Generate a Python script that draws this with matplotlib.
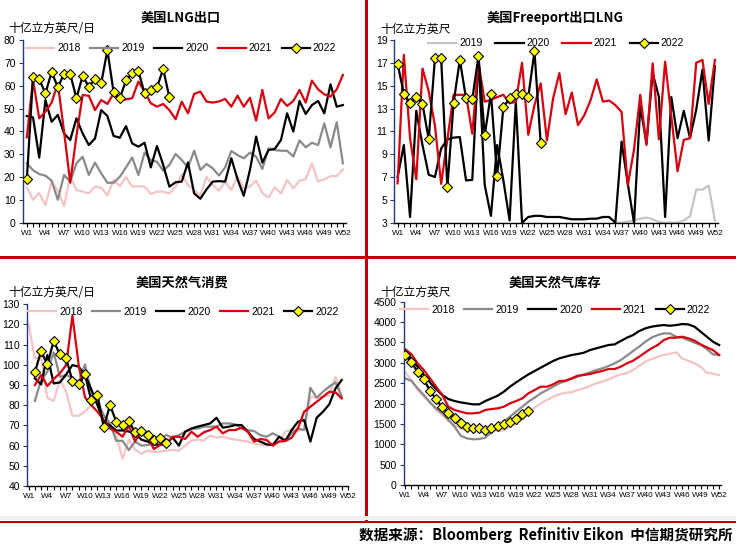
import numpy as np
import matplotlib
matplotlib.use('Agg')
import matplotlib.pyplot as plt
from matplotlib.patches import Rectangle
from matplotlib import font_manager

plt.rcParams['font.family'] = ['Liberation Sans', 'Noto Sans CJK SC']

nan = np.nan
WEEKS = np.arange(1, 53)

# ---- 美国LNG出口 (十亿立方英尺/日) ----
lng_2018 = [15.5, 10, 13, 7.7, 18, 14, 7.3, 20.4, 14.3, 13.6,
            12.8, 15.8, 15.3, 12, 18.7, 16, 19.9, 15.8, 16, 15.8,
            12.6, 13.6, 13.6, 12.8, 15.8, 21.3, 16.5, 14.3, 12, 20,
            16.5, 14, 18, 14.3, 20.4, 15, 15.8, 18.4, 13, 11.1,
            15.5, 12.8, 18.7, 15, 18.4, 19, 26, 18, 19, 20.4,
            20.4, 23.3]
lng_2019 = [26, 23, 21.3, 20.6, 18.4, 10, 20.9, 18, 26, 28.9,
            20.9, 26.3, 21.6, 17.5, 17.5, 20.1, 24.2, 28.6, 20.9, 30.7,
            27.4, 26.7, 22.8, 25.3, 30.1, 27.4, 24.2, 31.5, 23.1, 25.7,
            23.8, 20.6, 24.2, 31.4, 29.6, 28.2, 30.7, 28.9, 23.5, 32.6,
            31.8, 31.5, 31.5, 29, 36, 33, 35, 34, 43.5, 33,
            44, 26]
lng_2020 = [46.7, 46.1, 28.5, 53.7, 44.2, 47.2, 39.1, 36.2, 45.7, 39.1,
            34, 36.9, 49.3, 46.7, 38, 37.2, 42.3, 34.7, 33.3, 35,
            24.2, 33.6, 25.3, 15.8, 17.7, 18, 26.4, 12.8, 10.5, 14.6,
            18, 18.2, 18, 28.2, 19, 11.8, 23.1, 37.7, 26.3, 31.8,
            32.3, 36.2, 47.9, 39.9, 53.3, 47.6, 51.5, 53.3, 47.9, 60.6,
            50.8, 51.5]
lng_2021 = [37.4, 62.5, 45.7, 48.6, 52.6, 61, 40, 17.5, 38, 55.9,
            55.6, 49.3, 53.7, 52, 56.6, 53.4, 54, 54.5, 61.8, 57.4,
            52.3, 50.8, 52, 49.3, 45.3, 53, 47.9, 56.4, 57.4, 53,
            52.6, 53.1, 54.2, 50.8, 55.6, 50.8, 54.7, 44.7, 58.1, 45.7,
            48.3, 54.2, 51.1, 53.3, 58.1, 52.6, 62.2, 58.4, 56.2, 55.2,
            58.4, 64.7]
lng_2022 = [19, 63.8, 62.8, 56.6, 66, 59.3, 65.1, 65.1, 54.5, 64.2,
            59.6, 62.8, 61, 75.6, 57.1, 54.5, 62.3, 65.4, 66.4, 56.6,
            58.1, 59.3, 67.3, 54.9]

# ---- 美国Freeport出口LNG (十亿立方英尺) ----
fp_2019 = [nan] * 35 + [3.0, 3.0, 3.1, 3.2, 3.35, 3.45, 3.3, 3.05, 3.0, 3.0,
                        3.0, 3.2, 3.55, 5.9, 5.9, 6.25, 3.2]
fp_2020 = [7.0, 9.8, 3.5, 12.8, 9.8, 7.2, 7.0, 9.5, 10.3, 10.45,
           10.5, 6.7, 6.75, 17.5, 6.3, 3.6, 9.8, 6.7, 3.2, 13.6,
           3.0, 3.5, 3.6, 3.6, 3.5, 3.5, 3.5, 3.4, 3.3, 3.3,
           3.3, 3.35, 3.35, 3.5, 3.5, 3.0, 10.1, 6.4, 3.0, 13.2,
           9.95, 16.1, 14.0, 3.5, 14.0, 10.4, 12.8, 10.4, 12.9, 16.4,
           10.2, 16.7]
fp_2021 = [6.45, 17.7, 10.4, 6.8, 16.5, 14.5, 11.5, 6.4, 10.3, 14.2,
           14.2, 14.2, 10.8, 17.0, 13.6, 13.75, 14.0, 14.2, 13.45, 13.6,
           17.0, 10.7, 13.3, 15.2, 10.2, 13.9, 16.1, 12.5, 14.4, 11.55,
           12.4, 13.7, 15.55, 13.6, 13.7, 13.3, 12.7, 6.3, 9.4, 14.2,
           9.8, 16.95, 10.3, 17.1, 12.3, 7.5, 10.25, 10.4, 17.0, 17.25,
           13.4, 17.25]
fp_2022 = [16.9, 14.3, 13.45, 14, 13.4, 10.3, 17.4, 17.4, 6.1, 13.5,
           17.25, 13.9, 13.8, 17.6, 10.65, 14.3, 7.1, 13.1, 13.9, 14.3,
           14.3, 14, 18.0, 9.95]

# ---- 美国天然气消费 (十亿立方英尺/日) ----
con_2018 = [120.5, 103.2, 103.5, 83.7, 82.1, 92.5, 86.7, 74.8, 74.8, 76.8,
            80.1, 83.4, 75, 70, 65, 53.5, 63, 58, 56, 57.5,
            57, 57, 57.5, 58, 57.5, 60, 62.5, 63, 62.5, 65,
            64, 64.5, 63.5, 63, 62.5, 62, 61, 60.5, 60, 61,
            62, 67, 68, 67.5, 68, 84, 84, 84, 85, 94,
            85]
con_2019 = [nan, 82.1, 92.5, 96.6, 106.2, 94.1, 95, 93.6, 91.3, 100.2,
            86.7, 80.9, 75.1, 71, 62.4, 62.4, 57.8, 62, 60, 60.3,
            61.1, 63.6, 65.2, 63.9, 65.2, 66.9, 68.2, 68.5, 69.4, 69.4,
            69.4, 71, 71, 70.5, 68.5, 67.7, 67.2, 65.2, 64.4, 66.1,
            64.4, 62.8, 66.1, 68.5, 67.7, 88.7, 83.7, 86.7, 89.2, 91.3,
            84.2]
con_2020 = [nan, 93.3, 90.3, 104.9, 90.8, 91.3, 95.3, 99.9, 99.1, 95,
            88, 80, 72, 70, 67.5, 67.5, 67, 66, 63, 62,
            60.5, 60.5, 61, 64, 60, 66.9, 68.5, 69.4, 70.2, 71,
            73.8, 68.9, 69.4, 70.2, 70.2, 66.9, 63.3, 62, 60.6, 60.3,
            64.4, 62.3, 67.7, 71.8, 72.7, 62, 73.8, 76.8, 80.4, 88.3,
            92.5]
con_2021 = [nan, 90, 95, 89.5, 93, 95.8, 99.9, 124.3, 100, 84,
            80.1, 76.8, 72.7, 68.5, 66.9, 64.4, 69.9, 62, 67.7, 64.4,
            58.3, 60.3, 61.1, 64.4, 64.4, 63.3, 66.9, 64.4, 66.6, 67.7,
            69.4, 66.1, 67.7, 67.7, 68.9, 66.9, 62, 63.3, 62.8, 60,
            62, 62.3, 63.9, 68.5, 76.8, 79.3, 81.7, 84.2, 86.7, 86.4,
            83.4]
con_2022 = [nan, 96.3, 106.8, 100.2, 111.8, 105.2, 103.2, 92.1, 90.3, 95.3,
            82.4, 85, 69, 80.1, 71.8, 70.2, 72.2, 66.6, 67.2, 65.2,
            62.8, 63.9, 61.1]

# ---- 美国天然气库存 (十亿立方英尺) ----
sto_2018 = [2765, 2577, 2331, 2168, 2028, 1841, 1718, 1570, 1472, 1391,
            1350, 1325, 1309, 1292, 1325, 1325, 1350, 1432, 1513, 1620,
            1759, 1898, 2004, 2086, 2168, 2225, 2266, 2274, 2331, 2372,
            2430, 2495, 2536, 2593, 2659, 2716, 2740, 2822, 2920, 3027,
            3092, 3149, 3190, 3223, 3256, 3108, 3051, 2986, 2904, 2757,
            2732, 2700]
sto_2019 = [2618, 2552, 2372, 2209, 2028, 1881, 1759, 1595, 1432, 1211,
            1145, 1121, 1129, 1162, 1292, 1432, 1554, 1677, 1800, 1922,
            2045, 2143, 2250, 2331, 2413, 2495, 2552, 2601, 2659, 2716,
            2765, 2822, 2863, 2920, 2986, 3067, 3174, 3288, 3395, 3517,
            3616, 3681, 3722, 3722, 3640, 3616, 3558, 3493, 3436, 3338,
            3207, 3190]
sto_2020 = [3270, 3092, 2904, 2700, 2519, 2356, 2209, 2110, 2061, 2028,
            2004, 1980, 1980, 2061, 2127, 2192, 2290, 2413, 2519, 2618,
            2716, 2798, 2880, 2961, 3043, 3108, 3149, 3190, 3215, 3247,
            3313, 3354, 3395, 3436, 3452, 3534, 3616, 3681, 3779, 3845,
            3886, 3910, 3926, 3910, 3926, 3951, 3943, 3886, 3763, 3640,
            3517, 3436]
sto_2021 = [3330, 3207, 2986, 2822, 2618, 2413, 2209, 1922, 1841, 1800,
            1759, 1759, 1775, 1841, 1865, 1881, 1922, 2004, 2061, 2127,
            2250, 2331, 2413, 2413, 2470, 2552, 2560, 2618, 2683, 2700,
            2724, 2765, 2798, 2847, 2847, 2904, 2986, 3051, 3149, 3256,
            3354, 3436, 3558, 3616, 3616, 3640, 3600, 3542, 3452, 3378,
            3313, 3190]
sto_2022 = [3190, 3010, 2781, 2593, 2315, 2102, 1906, 1775, 1636, 1513,
            1432, 1407, 1407, 1350, 1391, 1448, 1497, 1554, 1620, 1734,
            1816]

W, H = 736, 548
PINK = '#f4c4c4'
GRAY = '#8a8a8a'
LIGHTGRAY = '#c4c4c4'
RED = '#d9000f'
NAVY = '#1f3a7a'
BORDER = '#c00000'

# narrow font for the crowded week labels, if there is one
installed = {f.name for f in font_manager.fontManager.ttflist}
if 'Liberation Sans Narrow' in installed:
    XFONT, XSIZE = 'Liberation Sans Narrow', 7
else:
    XFONT, XSIZE = 'Liberation Sans', 5.9


def px_axes(fig, x0, y0, x1, y1):
    # pixel box (left, top, right, bottom) -> axes
    return fig.add_axes([x0 / W, 1 - y1 / H, (x1 - x0) / W, (y1 - y0) / H])


def draw_panel(ax, series, ylim, ystep, xlim, leg_x, leg_y, colspace):
    for year, vals, color in series:
        vals = np.array(vals, dtype=float)
        x = WEEKS[:len(vals)]
        if year == '2022':
            ax.plot(x, vals, color='black', lw=1.6, marker='D', ms=5.4,
                    mfc='#ffff00', mec='black', mew=0.8, label=year, zorder=5)
        else:
            ax.plot(x, vals, color=color, lw=1.6, label=year)

    ax.set_xlim(*xlim)
    ax.set_ylim(*ylim)
    ax.set_yticks(np.arange(ylim[0], ylim[1] + ystep / 2, ystep))
    ax.set_xticks(WEEKS)
    ax.set_xticklabels(['W%d' % w if (w - 1) % 3 == 0 else '' for w in WEEKS],
                       fontsize=XSIZE, family=XFONT)
    ax.tick_params(axis='y', labelsize=7.5, length=3, color=NAVY, pad=2)
    ax.tick_params(axis='x', length=3, pad=2)
    for s in ['top', 'right']:
        ax.spines[s].set_visible(False)
    ax.spines['left'].set_color(NAVY)
    ax.spines['left'].set_linewidth(1.0)
    ax.spines['bottom'].set_linewidth(1.0)
    ax.set_facecolor('none')

    ax.legend(ncol=len(series), loc='center', bbox_to_anchor=(leg_x, leg_y),
              frameon=False, fontsize=7.5, handlelength=2.7, handletextpad=0.3,
              columnspacing=colspace, borderaxespad=0, borderpad=0)


fig = plt.figure(figsize=(W / 100, H / 100), dpi=100)

# panel borders
fig.patches.append(Rectangle((365 / W, 1 - 521 / H), 3 / W, 521 / H,
                             transform=fig.transFigure, color=BORDER, lw=0))
fig.patches.append(Rectangle((0, 1 - 259 / H), 1, 3 / H,
                             transform=fig.transFigure, color=BORDER, lw=0))
fig.patches.append(Rectangle((0, 1 - 520 / H), 1, 4 / H,
                             transform=fig.transFigure, color='#efefef', lw=0))
fig.patches.append(Rectangle((0, 1 - 523 / H), 1, 2.5 / H,
                             transform=fig.transFigure, color=BORDER, lw=0))

ax1 = px_axes(fig, 22.5, 40, 346, 222.7)
draw_panel(ax1, [('2018', lng_2018, PINK), ('2019', lng_2019, GRAY),
                 ('2020', lng_2020, 'black'), ('2021', lng_2021, RED),
                 ('2022', lng_2022, 'black')],
           (0, 80), 10, (0.3, 52.5), 0.49, 0.955, 0.9)

ax2 = px_axes(fig, 394.5, 40, 718, 222.7)
draw_panel(ax2, [('2019', fp_2019, LIGHTGRAY), ('2020', fp_2020, 'black'),
                 ('2021', fp_2021, RED), ('2022', fp_2022, 'black')],
           (3, 19), 2, (0.5, 52.5), 0.5, 0.982, 1.2)

ax3 = px_axes(fig, 26.7, 304.3, 348, 486)
draw_panel(ax3, [('2018', con_2018, PINK), ('2019', con_2019, GRAY),
                 ('2020', con_2020, 'black'), ('2021', con_2021, RED),
                 ('2022', con_2022, 'black')],
           (40, 130), 10, (0.7, 52.0), 0.487, 0.959, 0.9)

ax4 = px_axes(fig, 403.5, 301.7, 721, 485)
draw_panel(ax4, [('2018', sto_2018, PINK), ('2019', sto_2019, GRAY),
                 ('2020', sto_2020, 'black'), ('2021', sto_2021, RED),
                 ('2022', sto_2022, 'black')],
           (0, 4500), 500, (0.7, 52.3), 0.477, 0.955, 0.9)

title_kw = dict(fontsize=9.5, fontweight='bold', ha='center', va='center',
                family=['Noto Sans CJK SC', 'DejaVu Sans'])
fig.text(181 / W, 1 - 18 / H, '美国LNG出口', **title_kw)
fig.text(555 / W, 1 - 18 / H, '美国Freeport出口LNG', **title_kw)
fig.text(182 / W, 1 - 283 / H, '美国天然气消费', **title_kw)
fig.text(555 / W, 1 - 283 / H, '美国天然气库存', **title_kw)

unit_kw = dict(fontsize=8.5, ha='left', va='center',
               family=['Noto Sans CJK SC', 'DejaVu Sans'])
fig.text(8 / W, 1 - 29 / H, '十亿立方英尺/日', **unit_kw)
fig.text(380 / W, 1 - 29 / H, '十亿立方英尺', **unit_kw)
fig.text(8 / W, 1 - 293 / H, '十亿立方英尺/日', **unit_kw)
fig.text(380 / W, 1 - 292 / H, '十亿立方英尺', **unit_kw)

fig.text(733 / W, 1 - 535 / H, '数据来源：Bloomberg  Refinitiv Eikon  中信期货研究所',
         fontsize=10.5, fontweight='bold', ha='right', va='center',
         family=['Noto Sans CJK SC', 'DejaVu Sans'])

fig.savefig('out.png', dpi=100)
